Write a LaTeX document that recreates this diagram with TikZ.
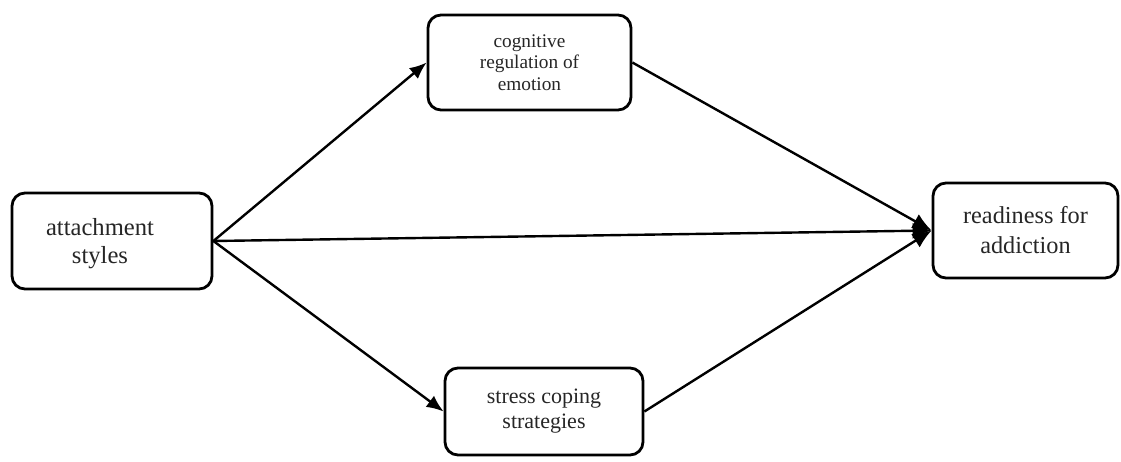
\documentclass[tikz,border=0pt]{standalone}
\usepackage{fontspec}
\setmainfont{Liberation Serif}
\usetikzlibrary{arrows.meta}
\begin{document}
\begin{tikzpicture}[x=1pt,y=-1pt,
  box/.style={draw, line width=2.8pt, rounded corners=13pt, align=center, inner sep=0pt, text=black!85},
  link/.style={line width=2.4pt, -{Latex[length=17pt,width=14pt]}},
  biglink/.style={line width=2.4pt, -{Latex[length=19pt,width=16pt]}}]
\useasboundingbox (0,0) rectangle (1121,461);
\fill[white] (0,0) rectangle (1121,461);
\node[box, minimum width=200pt, minimum height=96pt] (attach) at (112,241) {};
\node[font=\fontsize{24.6}{28}\selectfont, align=center, text=black!85] (attachtxt) at (100,244) {attachment\\styles};
\node[box, minimum width=203pt, minimum height=95pt, font=\fontsize{19.3}{21.5}\selectfont] (cog) at (529.5,62.5) {cognitive\\regulation of\\emotion};
\node[box, minimum width=198pt, minimum height=87pt, font=\fontsize{22}{25}\selectfont] (stress) at (544,411.5) {stress coping\\strategies};
\node[box, minimum width=185pt, minimum height=95pt, font=\fontsize{24.3}{30}\selectfont] (ready) at (1025.5,230.5) {readiness for\\addiction};
\draw[link] (attach.east) -- (cog.west);
\draw[link] (attach.east) -- (stress.west);
\draw[biglink] (attach.east) -- (ready.west);
\draw[biglink] (cog.east) -- (ready.west);
\draw[biglink] (stress.east) -- (ready.west);
\end{tikzpicture}
\end{document}
